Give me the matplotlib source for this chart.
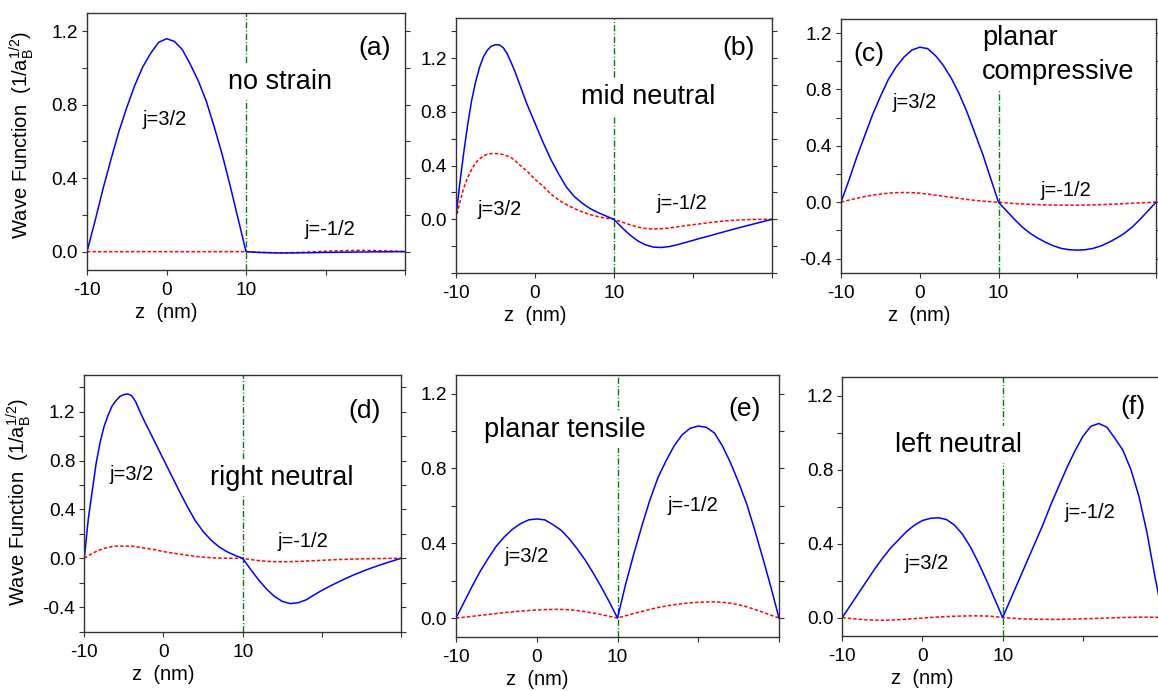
import numpy as np
import matplotlib
matplotlib.use("Agg")
import matplotlib.pyplot as plt
from matplotlib.ticker import MultipleLocator

plt.rcParams['font.family'] = ['Liberation Sans', 'DejaVu Sans']
plt.rcParams['mathtext.fontset'] = 'custom'
plt.rcParams['mathtext.rm'] = 'Liberation Sans'
plt.rcParams['mathtext.it'] = 'Liberation Sans:italic'

# z grid (nm), sampled every 1 nm across the well (-10..10) and barrier (10..30)
z = [-10, -9, -8, -7, -6, -5, -4, -3, -2, -1, 0, 1, 2, 3, 4, 5, 6, 7, 8, 9, 10,
     11, 12, 13, 14, 15, 16, 17, 18, 19, 20, 21, 22, 23, 24, 25, 26, 27, 28, 29, 30]
# denser sampling on the steep left side for the neutral-layer cases
z_fine = [-10, -9.5, -9, -8.5, -8, -7.5, -7, -6.5, -6, -5.5, -5, -4.5, -4, -3.5, -3, -2.5, -2,
          -1, 0, 1, 2, 3, 4, 5, 6, 7, 8, 9, 10,
          11, 12, 13, 14, 15, 16, 17, 18, 19, 20, 21, 22, 23, 24, 25, 26, 27, 28, 29, 30]

# (a) no strain
a_blue = [0, 0.165, 0.34, 0.50, 0.653, 0.785, 0.905, 1.005, 1.08, 1.14, 1.16,
          1.145, 1.10, 1.02, 0.93, 0.82, 0.68, 0.53, 0.36, 0.18, 0.0,
          -0.003, -0.005, -0.006, -0.007, -0.007, -0.007, -0.006, -0.006, -0.005, -0.004,
          -0.004, -0.003, -0.003, -0.002, -0.002, -0.001, -0.001, -0.001, 0.0, 0.0]
a_red = [0, 0, 0, 0, 0, 0, 0, 0, 0, 0, 0, 0, 0, 0, 0, 0, 0, 0, 0, 0, 0,
         -0.002, -0.004, -0.005, -0.006, -0.006, -0.005, -0.004, -0.002, 0.0, 0.002,
         0.004, 0.005, 0.006, 0.007, 0.007, 0.006, 0.005, 0.004, 0.002, 0.0]

# (b) mid neutral (z_fine)
b_blue = [0, 0.26, 0.49, 0.70, 0.88, 1.02, 1.13, 1.21, 1.26, 1.29, 1.30, 1.30, 1.28, 1.235, 1.17, 1.10, 1.02,
          0.86, 0.72, 0.58, 0.45, 0.34, 0.24, 0.17, 0.12, 0.08, 0.05, 0.025, 0.0,
          -0.06, -0.115, -0.16, -0.19, -0.207, -0.21, -0.203, -0.19, -0.173, -0.157,
          -0.14, -0.125, -0.108, -0.092, -0.076, -0.06, -0.045, -0.03, -0.015, 0.0]
b_red = [0, 0.12, 0.23, 0.31, 0.37, 0.42, 0.45, 0.472, 0.485, 0.49, 0.49, 0.488, 0.482, 0.472, 0.46, 0.437, 0.41,
         0.36, 0.30, 0.25, 0.19, 0.145, 0.11, 0.08, 0.055, 0.035, 0.02, 0.008, 0.0,
         -0.02, -0.04, -0.057, -0.068, -0.072, -0.07, -0.065, -0.056, -0.048, -0.04,
         -0.033, -0.025, -0.018, -0.012, -0.008, -0.004, -0.002, -0.001, 0.0, 0.0]

# (c) planar compressive
c_blue = [0, 0.155, 0.32, 0.47, 0.62, 0.75, 0.87, 0.96, 1.03, 1.08, 1.10,
          1.09, 1.04, 0.97, 0.88, 0.77, 0.64, 0.49, 0.34, 0.17, 0.0,
          -0.06, -0.12, -0.175, -0.22, -0.255, -0.285, -0.31, -0.328, -0.337, -0.34,
          -0.337, -0.328, -0.31, -0.285, -0.255, -0.22, -0.175, -0.12, -0.06, 0.0]
c_red = [0, 0.015, 0.028, 0.04, 0.05, 0.058, 0.064, 0.068, 0.069, 0.068, 0.064,
         0.058, 0.05, 0.043, 0.035, 0.027, 0.02, 0.013, 0.008, 0.003, 0.0,
         -0.005, -0.009, -0.012, -0.015, -0.017, -0.019, -0.02, -0.021, -0.021, -0.021,
         -0.02, -0.019, -0.017, -0.015, -0.013, -0.01, -0.007, -0.004, -0.002, 0.0]

# (d) right neutral (z_fine)
d_blue = [0, 0.32, 0.55, 0.78, 0.95, 1.08, 1.17, 1.245, 1.29, 1.325, 1.34, 1.345, 1.33, 1.28, 1.205, 1.135, 1.07,
          0.94, 0.81, 0.68, 0.55, 0.425, 0.31, 0.22, 0.15, 0.095, 0.055, 0.025, 0.0,
          -0.09, -0.175, -0.25, -0.31, -0.352, -0.37, -0.363, -0.34, -0.30, -0.262,
          -0.228, -0.196, -0.165, -0.136, -0.11, -0.085, -0.062, -0.04, -0.02, 0.0]
d_red = [0, 0.022, 0.04, 0.056, 0.07, 0.081, 0.09, 0.096, 0.10, 0.10, 0.10, 0.10, 0.10, 0.096, 0.09, 0.085, 0.08,
         0.07, 0.055, 0.045, 0.035, 0.025, 0.017, 0.01, 0.005, 0.002, 0.001, 0.0, 0.0,
         -0.01, -0.018, -0.024, -0.027, -0.028, -0.027, -0.025, -0.022, -0.019, -0.016,
         -0.013, -0.01, -0.008, -0.006, -0.004, -0.003, -0.002, -0.001, 0.0, 0.0]

# (e) planar tensile
e_blue = [0, 0.085, 0.17, 0.25, 0.32, 0.385, 0.435, 0.475, 0.505, 0.525, 0.53,
          0.525, 0.50, 0.47, 0.425, 0.37, 0.31, 0.24, 0.165, 0.085, 0.0,
          0.18, 0.34, 0.49, 0.63, 0.75, 0.84, 0.92, 0.98, 1.015, 1.027,
          1.02, 0.99, 0.92, 0.83, 0.725, 0.61, 0.47, 0.32, 0.165, 0.0]
e_red = [0, 0.004, 0.009, 0.014, 0.019, 0.024, 0.029, 0.033, 0.037, 0.040, 0.043,
         0.045, 0.046, 0.046, 0.044, 0.04, 0.034, 0.026, 0.018, 0.009, 0.0,
         0.012, 0.024, 0.035, 0.046, 0.056, 0.064, 0.071, 0.077, 0.081, 0.084,
         0.086, 0.086, 0.084, 0.079, 0.071, 0.06, 0.046, 0.031, 0.015, 0.0]

# (f) left neutral
f_blue = [0, 0.065, 0.13, 0.195, 0.26, 0.32, 0.375, 0.42, 0.465, 0.50, 0.525,
          0.537, 0.54, 0.53, 0.50, 0.45, 0.38, 0.295, 0.20, 0.10, 0.0,
          0.10, 0.20, 0.30, 0.40, 0.50, 0.61, 0.71, 0.81, 0.90, 0.98,
          1.035, 1.05, 1.03, 0.97, 0.905, 0.80, 0.655, 0.46, 0.22, 0.0]
f_red = [0, -0.005, -0.009, -0.012, -0.014, -0.015, -0.014, -0.012, -0.009, -0.006, -0.003,
         0.0, 0.003, 0.005, 0.007, 0.008, 0.009, 0.009, 0.008, 0.005, 0.0,
         -0.003, -0.006, -0.008, -0.009, -0.01, -0.01, -0.01, -0.009, -0.008, -0.007,
         -0.006, -0.004, -0.003, -0.001, 0.0, 0.001, 0.002, 0.002, 0.001, 0.0]

W, H = 1158, 691
fig = plt.figure(figsize=(W / 100, H / 100), dpi=100)

# panel boxes in pixels: left, top, right, bottom
panels = [
    dict(box=(87, 13, 405, 270), z=z, blue=a_blue, red=a_red, ylim=(-0.1, 1.3),
         yt=[0.0, 0.4, 0.8, 1.2], tag='(a)', tag_xy=(26.2, 1.11),
         strain='no strain', strain_xy=(14.3, 0.926), ha='center',
         j1_xy=(-0.3, 0.72), j2_xy=(20.6, 0.12), ylab=(-0.16, 0.525)),
    dict(box=(455.7, 18, 772, 273), z=z_fine, blue=b_blue, red=b_red, ylim=(-0.4, 1.5),
         yt=[0.0, 0.4, 0.8, 1.2], tag='(b)', tag_xy=(25.8, 1.274),
         strain='mid neutral', strain_xy=(14.4, 0.914), ha='center',
         j1_xy=(-4.4, 0.07), j2_xy=(18.6, 0.12), ylab=None),
    dict(box=(841, 19, 1156, 272.7), z=z, blue=c_blue, red=c_red, ylim=(-0.5, 1.3),
         yt=[-0.4, 0.0, 0.4, 0.8, 1.2], tag='(c)', tag_xy=(-6.5, 1.05),
         strain='planar\ncompressive', strain_xy=(7.9, 1.045), ha='left',
         j1_xy=(-0.6, 0.71), j2_xy=(18.5, 0.083), ylab=None),
    dict(box=(84.3, 375, 401, 631.7), z=z_fine, blue=d_blue, red=d_red, ylim=(-0.6, 1.5),
         yt=[-0.4, 0.0, 0.4, 0.8, 1.2], tag='(d)', tag_xy=(25.4, 1.205),
         strain='right neutral', strain_xy=(14.9, 0.66), ha='center',
         j1_xy=(-4.0, 0.69), j2_xy=(17.6, 0.14), ylab=(-0.162, 0.506)),
    dict(box=(456, 375, 779, 636.7), z=z, blue=e_blue, red=e_red, ylim=(-0.1, 1.3),
         yt=[0.0, 0.4, 0.8, 1.2], tag='(e)', tag_xy=(25.7, 1.12),
         strain='planar tensile', strain_xy=(3.5, 1.007), ha='center',
         j1_xy=(-1.3, 0.33), j2_xy=(19.3, 0.60), ylab=None),
    dict(box=(842.3, 377.3, 1163, 636), z=z, blue=f_blue, red=f_red, ylim=(-0.1, 1.3),
         yt=[0.0, 0.4, 0.8, 1.2], tag='(f)', tag_xy=(26.3, 1.14),
         strain='left neutral', strain_xy=(4.5, 0.935), ha='center',
         j1_xy=(0.5, 0.295), j2_xy=(20.9, 0.57), ylab=None),
]

for p in panels:
    l, t, r, b = p['box']
    ax = fig.add_axes([l / W, 1 - b / H, (r - l) / W, (b - t) / H])
    hpx = b - t

    # layer boundary, then the two components; strain caption sits above
    # the boundary line but below the spines
    ax.axvline(10, color='#008000', lw=1.0, ls=(0, (4.5, 1.5, 0.8, 1.5)), zorder=1)
    ax.plot(p['z'], p['red'], color='#ff0000', lw=1.1, ls=(0, (2.2, 1.4)), zorder=1.5)
    ax.plot(p['z'], p['blue'], color='#0000ff', lw=1.1, zorder=1.8)

    ax.set_xlim(-10, 30)
    ax.set_ylim(*p['ylim'])
    ax.set_xticks([-10, 0, 10, 20, 30])
    ax.set_xticklabels(['-10', '0', '10', '', ''])
    ax.set_yticks(p['yt'])
    ax.set_yticklabels(['%.1f' % v for v in p['yt']])
    ax.yaxis.set_minor_locator(MultipleLocator(0.2))
    ax.tick_params(which='both', direction='out', right=True, top=False,
                   length=3.5, width=0.8, color='#333333', labelsize=13.7)
    ax.tick_params(axis='x', pad=5)
    ax.tick_params(axis='y', pad=3)
    for s in ax.spines.values():
        s.set_linewidth(1.0)
        s.set_color('#333333')
        s.set_zorder(3)

    ax.set_xlabel('z  (nm)', fontsize=14.5)
    ax.xaxis.set_label_coords(0.25, -33 / hpx)
    if p['ylab'] is not None:
        ax.set_ylabel(r'Wave Function  (1/a$_\mathregular{B}^\mathregular{1/2}$)', fontsize=14.5)
        ax.yaxis.set_label_coords(*p['ylab'])

    ax.text(*p['tag_xy'], p['tag'], fontsize=19, ha='center', va='center', zorder=4)
    ax.text(*p['strain_xy'], p['strain'], fontsize=19.5, ha=p['ha'], va='center',
            linespacing=1.4, zorder=2,
            bbox=dict(facecolor='white', edgecolor='none', pad=4))
    ax.text(*p['j1_xy'], 'j=3/2', fontsize=14.5, ha='center', va='center', zorder=4)
    ax.text(*p['j2_xy'], 'j=-1/2', fontsize=14.5, ha='center', va='center', zorder=4)

fig.savefig('out.png', dpi=100)
